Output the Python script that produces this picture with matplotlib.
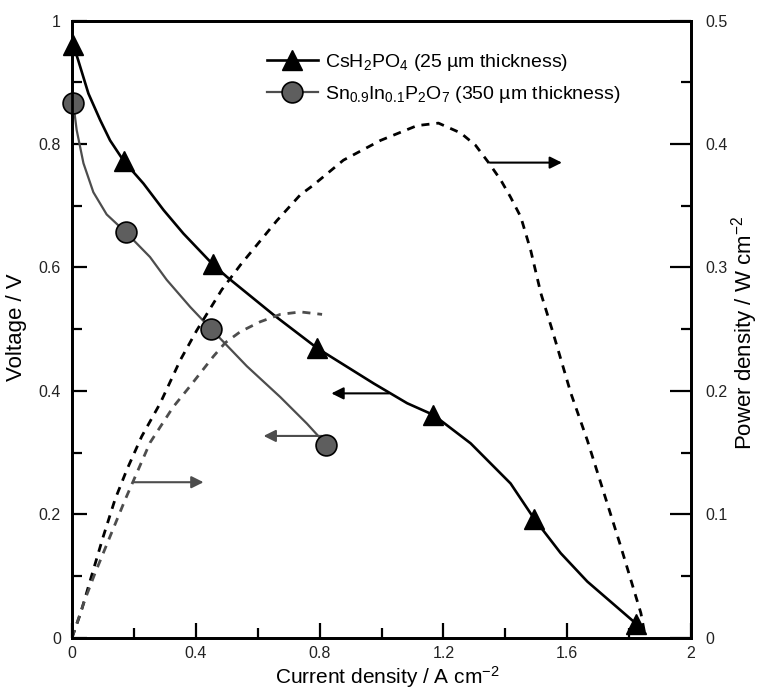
import matplotlib
matplotlib.use("Agg")
import matplotlib.pyplot as plt
from matplotlib.ticker import MultipleLocator, FuncFormatter
from matplotlib.lines import Line2D

plt.rcParams['font.family'] = ['Liberation Sans', 'DejaVu Sans']
plt.rcParams['mathtext.fontset'] = 'custom'
plt.rcParams['mathtext.rm'] = 'Liberation Sans'
plt.rcParams['mathtext.it'] = 'Liberation Sans:italic'
plt.rcParams['mathtext.default'] = 'regular'

# ---- data ----
# CsH2PO4 voltage curve
cs_I = [0.004, 0.02, 0.053, 0.091, 0.123, 0.168, 0.231, 0.296, 0.36, 0.455, 0.5,
        0.652, 0.793, 0.975, 1.083, 1.168, 1.288, 1.417, 1.493, 1.579, 1.665, 1.822]
cs_V = [0.961, 0.936, 0.882, 0.839, 0.806, 0.772, 0.736, 0.693, 0.655, 0.605, 0.585,
        0.523, 0.469, 0.412, 0.38, 0.361, 0.315, 0.25, 0.193, 0.137, 0.091, 0.023]
cs_markers = [0, 5, 9, 12, 15, 18, 21]

# Sn0.9In0.1P2O7 voltage curve
sn_I = [0.004, 0.015, 0.037, 0.069, 0.112, 0.174, 0.252, 0.306, 0.382, 0.45,
        0.565, 0.673, 0.759, 0.821]
sn_V = [0.867, 0.823, 0.769, 0.722, 0.686, 0.657, 0.617, 0.58, 0.536, 0.50,
        0.440, 0.39, 0.347, 0.313]
sn_markers = [0, 5, 9, 13]

# power density curves
cs_P_I = [0.0, 0.028, 0.069, 0.101, 0.139, 0.177, 0.225, 0.285, 0.35, 0.403, 0.484,
          0.544, 0.662, 0.738, 0.776, 0.877, 0.997, 1.115, 1.184, 1.256, 1.304,
          1.346, 1.385, 1.417, 1.45, 1.482, 1.515, 1.552, 1.612, 1.665, 1.719,
          1.773, 1.838, 1.85]
cs_P = [0.0, 0.02, 0.055, 0.082, 0.112, 0.136, 0.163, 0.19, 0.225, 0.249, 0.282,
        0.302, 0.338, 0.359, 0.366, 0.387, 0.403, 0.415, 0.417, 0.409, 0.399,
        0.385, 0.371, 0.357, 0.341, 0.314, 0.279, 0.249, 0.198, 0.160, 0.117,
        0.074, 0.02, 0.004]

sn_P_I = [0.0, 0.042, 0.074, 0.118, 0.172, 0.252, 0.327, 0.382, 0.457, 0.495,
          0.544, 0.608, 0.673, 0.738, 0.808]
sn_P = [0.0, 0.031, 0.052, 0.079, 0.112, 0.158, 0.187, 0.204, 0.228, 0.239,
        0.248, 0.256, 0.262, 0.264, 0.262]

legend_labels = ['CsH$_2$PO$_4$ (25 µm thickness)',
                 'Sn$_{0.9}$In$_{0.1}$P$_2$O$_7$ (350 µm thickness)']

GRAY = '#4d4d4d'
MGRAY = '#5e5e5e'

W, H = 761, 691
fig = plt.figure(figsize=(W / 100, H / 100), dpi=100)
x0, x1, y0, y1 = 72, 691, 637.7, 20.7
ax = fig.add_axes([x0 / W, 1 - y0 / H, (x1 - x0) / W, (y0 - y1) / H])
ax2 = ax.twinx()

ax.set_xlim(0, 2)
ax.set_ylim(0, 1)
ax2.set_ylim(0, 0.5)

dash = (2.9, 2.5)
ax2.plot(cs_P_I, cs_P, color='black', lw=2.0, dashes=dash)
ax2.plot(sn_P_I, sn_P, color=GRAY, lw=2.0, dashes=dash)

ax.plot(cs_I, cs_V, color='black', lw=1.9, marker='^', ms=15,
        markevery=cs_markers, mfc='black', mec='black', zorder=5, clip_on=False)
ax.plot(sn_I, sn_V, color=GRAY, lw=1.6, marker='o', ms=15,
        markevery=sn_markers, mfc=MGRAY, mec='black', mew=1.2, zorder=5, clip_on=False)

# arrows
ap = dict(arrowstyle='-|>', lw=1.5, mutation_scale=18, shrinkA=0, shrinkB=0)
ax.annotate('', xy=(0.838, 0.396), xytext=(1.024, 0.396),
            arrowprops=dict(ap, color='black'))
ax.annotate('', xy=(0.619, 0.327), xytext=(0.808, 0.327),
            arrowprops=dict(ap, color=GRAY))
ax2.annotate('', xy=(0.425, 0.126), xytext=(0.198, 0.126),
             arrowprops=dict(ap, color=GRAY))
ax2.annotate('', xy=(1.583, 0.385), xytext=(1.35, 0.385),
             arrowprops=dict(ap, color='black'))

# ticks
fmt = FuncFormatter(lambda v, p: '%g' % round(v, 3))
ax.xaxis.set_major_locator(MultipleLocator(0.4))
ax.xaxis.set_minor_locator(MultipleLocator(0.2))
ax.yaxis.set_major_locator(MultipleLocator(0.2))
ax.yaxis.set_minor_locator(MultipleLocator(0.1))
ax2.yaxis.set_major_locator(MultipleLocator(0.1))
ax2.yaxis.set_minor_locator(MultipleLocator(0.05))
for a in (ax.xaxis, ax.yaxis, ax2.yaxis):
    a.set_major_formatter(fmt)

ax.tick_params(axis='both', which='major', direction='in', length=11, width=1.6,
               labelsize=11.5, pad=8, labelcolor='#222222')
ax.tick_params(axis='x', which='major', pad=6)
ax.tick_params(axis='both', which='minor', direction='in', length=7.5, width=1.6)
ax.tick_params(axis='y', which='both', right=False)
ax.tick_params(axis='x', which='both', top=False)
ax2.tick_params(axis='y', which='major', direction='in', length=15, width=1.6,
                labelsize=11.5, pad=10, labelcolor='#222222')
ax2.tick_params(axis='y', which='minor', direction='in', length=7.5, width=1.6)

for a in (ax, ax2):
    for s in a.spines.values():
        s.set_linewidth(2.0)

fig.text(0.5 * (260 + 515) / W, 1 - 677 / H, 'Current density / A cm$^{-2}$',
         ha='center', va='center', fontsize=15)
fig.text(17 / W, 1 - 327 / H, 'Voltage / V', rotation=90,
         ha='center', va='center', fontsize=16)
fig.text(745 / W, 1 - 333 / H, 'Power density / W cm$^{-2}$', rotation=90,
         ha='center', va='center', fontsize=16)

handles = [Line2D([], [], color='black', lw=1.9, marker='^', ms=15, mfc='black', mec='black'),
           Line2D([], [], color=GRAY, lw=1.6, marker='o', ms=15, mfc=MGRAY, mec='black', mew=1.2)]
leg = ax.legend(handles, legend_labels, loc='upper left',
                bbox_to_anchor=(267 / W, 1 - 52 / H), bbox_transform=fig.transFigure,
                frameon=False, fontsize=14, handlelength=2.6, handletextpad=0.36,
                labelspacing=0.58, borderpad=0, borderaxespad=0, numpoints=1)

fig.savefig('out.png', dpi=100)
